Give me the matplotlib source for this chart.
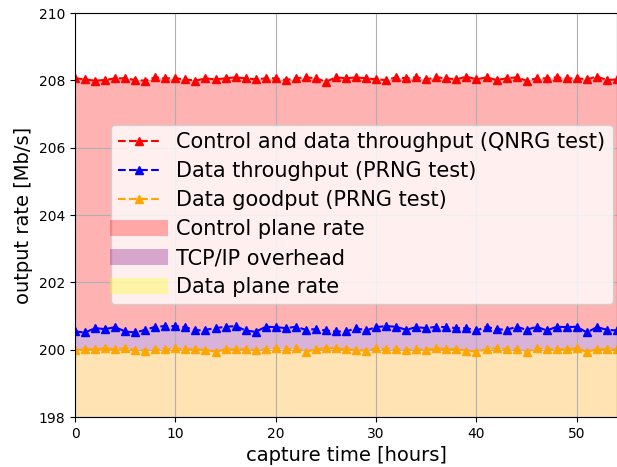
import numpy as np
import matplotlib
matplotlib.use('Agg')
import matplotlib.pyplot as plt

hours = np.arange(0, 55)

control_rate = [208.06, 208.03, 207.99, 208.01, 208.06, 208.06, 208.01, 207.99, 208.09, 208.06,
                208.06, 208.03, 207.99, 208.06, 208.03, 208.06, 208.09, 208.06, 208.03, 208.06,
                208.06, 208.01, 208.06, 208.09, 208.06, 207.96, 208.09, 208.06, 208.09, 208.06,
                208.03, 208.01, 208.09, 208.06, 208.09, 208.03, 208.09, 208.06, 208.03, 208.11,
                208.03, 208.09, 208.01, 208.06, 208.09, 207.99, 208.06, 208.06, 208.09, 208.06,
                208.06, 208.03, 208.11, 208.01, 208.03]

throughput = [200.54, 200.51, 200.64, 200.61, 200.67, 200.54, 200.51, 200.59, 200.68, 200.70,
              200.70, 200.67, 200.57, 200.59, 200.64, 200.68, 200.70, 200.57, 200.53, 200.68,
              200.67, 200.64, 200.68, 200.59, 200.61, 200.57, 200.54, 200.54, 200.64, 200.57,
              200.67, 200.70, 200.68, 200.59, 200.67, 200.64, 200.68, 200.67, 200.64, 200.64,
              200.57, 200.68, 200.61, 200.59, 200.68, 200.59, 200.68, 200.57, 200.68, 200.67,
              200.68, 200.51, 200.67, 200.59, 200.57]

goodput = [199.99, 200.01, 200.01, 200.04, 200.01, 200.04, 199.99, 199.97, 200.01, 200.01,
           200.04, 200.01, 200.01, 199.99, 199.94, 200.01, 200.01, 200.01, 199.99, 200.01,
           200.04, 200.01, 200.04, 199.94, 200.01, 200.04, 200.04, 200.01, 199.99, 199.97,
           200.04, 200.01, 200.01, 199.99, 200.01, 199.99, 200.04, 200.01, 200.01, 199.97,
           199.94, 200.01, 200.04, 200.01, 200.01, 199.94, 200.04, 200.01, 200.01, 200.01,
           200.04, 199.94, 200.01, 200.01, 200.01]

fig = plt.figure(figsize=(6.17, 4.67), dpi=100)
ax = fig.add_axes([75/617, 50/467, 542/617, 404/467])

ax.fill_between(hours, throughput, control_rate, color='red', alpha=0.3, lw=0)
ax.fill_between(hours, goodput, throughput, color='purple', alpha=0.3, lw=0)
ax.fill_between(hours, 198, goodput, color='orange', alpha=0.3, lw=0)

ax.plot(hours, control_rate, '--^', c='red', ms=5.5, lw=1.5, label='Control and data throughput (QNRG test)')
ax.plot(hours, throughput, '--^', c='blue', ms=5.5, lw=1.5, label='Data throughput (PRNG test)')
ax.plot(hours, goodput, '--^', c='orange', ms=5.5, lw=1.5, label='Data goodput (PRNG test)')

# legend entries for the shaded areas
ax.plot([], [], c='red', alpha=0.3, lw=11.5, label='Control plane rate')
ax.plot([], [], c='purple', alpha=0.3, lw=11.5, label='TCP/IP overhead')
ax.plot([], [], c='yellow', alpha=0.3, lw=11.5, label='Data plane rate')

ax.set_xlim(0, 54)
ax.set_ylim(198, 210)
ax.set_xlabel('capture time [hours]', fontsize=14)
ax.set_ylabel('output rate [Mb/s]', fontsize=14)
ax.grid(True)
ax.legend(loc='center right', bbox_to_anchor=(1.0, 0.501), fontsize=15,
          labelspacing=0.43, borderpad=0.35, borderaxespad=0.2)

plt.savefig('out.png', dpi=100)
plt.close()
